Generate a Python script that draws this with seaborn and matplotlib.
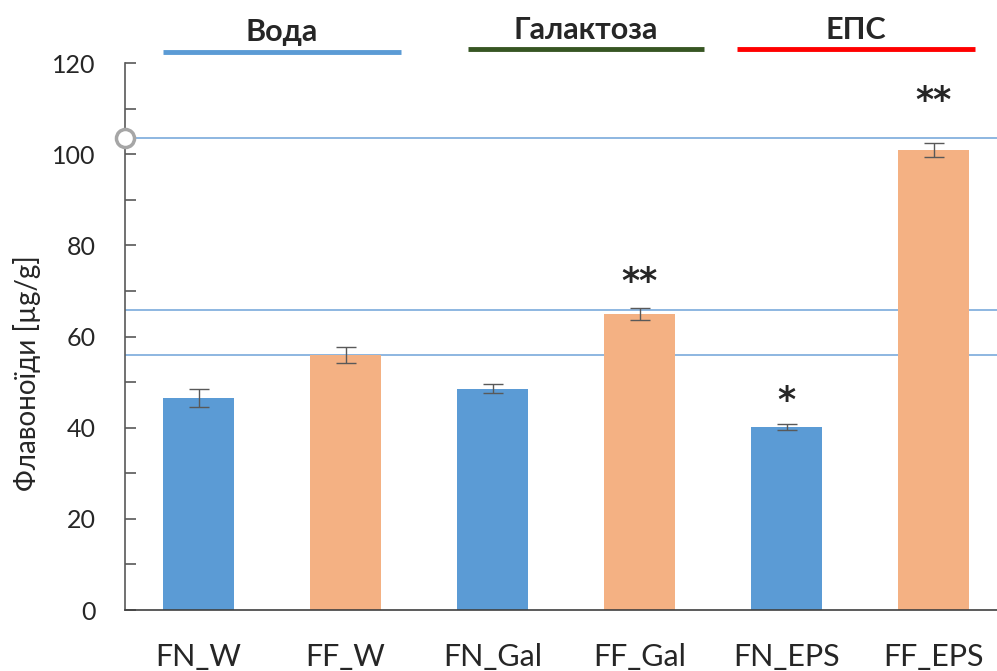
import matplotlib
matplotlib.use("Agg")
import matplotlib.pyplot as plt
import seaborn as sns
import pandas as pd

# Flavonoid content per treatment
categories = ["FN_W", "FF_W", "FN_Gal", "FF_Gal", "FN_EPS", "FF_EPS"]
values = [46.5, 55.9, 48.5, 64.9, 40.1, 100.9]
errors = [2.0, 1.8, 1.0, 1.3, 0.7, 1.5]
significance = ["", "", "", "**", "*", "**"]
star_y = [None, None, None, 72.0, 45.8, 111.6]

# Reference levels drawn across the plot
ref_levels = [103.5, 65.8, 55.9]

# Treatment groups: label, x-span of the bracket line, line colour
groups = ["Вода", "Галактоза", "ЕПС"]
group_spans = [(-0.245, 1.38), (1.83, 3.44), (3.66, 5.28)]
group_colors = ["#5B9BD5", "#375623", "#FF0000"]

y_ticks = [0, 20, 40, 60, 80, 100, 120]

sns.set_theme(style="white")
plt.rcParams["font.family"] = ["Lato", "DejaVu Sans"]

blue = "#5B9BD5"
orange = "#F4B183"
palette = {c: (blue if c.startswith("FN") else orange) for c in categories}

df = pd.DataFrame({"cat": categories, "val": values})

fig = plt.figure(figsize=(9.97, 6.71), dpi=100)
ax = fig.add_axes([0.1254, 0.0909, 0.8746, 0.8152])

sns.barplot(data=df, x="cat", y="val", hue="cat", palette=palette,
            legend=False, width=0.48, ax=ax, errorbar=None, saturation=1,
            edgecolor="none", zorder=2)

ax.errorbar(range(len(categories)), values, yerr=errors, fmt="none",
            ecolor="#595959", elinewidth=1.0, capsize=7, capthick=1.0, zorder=3)

for lvl in ref_levels:
    ax.axhline(lvl, color="#6FA3D8", lw=1.1, zorder=1)
ax.plot([-0.5], [ref_levels[0]], marker="o", ms=13, mfc="white",
        mec="#A6A6A6", mew=2.5, clip_on=False, zorder=5)

for i, s in enumerate(significance):
    if s:
        ax.text(i, star_y[i], s, ha="center", va="center",
                fontsize=25, fontweight="bold", family="DejaVu Sans")

ax.set_xlim(-0.5, 5.43)
ax.set_ylim(0, 120)
ax.set_yticks(y_ticks)
ax.set_yticks(range(10, 120, 20), minor=True)
ax.tick_params(axis="y", which="both", direction="in", length=8, width=1.2,
               color="#595959", labelsize=18, pad=21, left=True)
ax.tick_params(axis="x", length=0, labelsize=22, pad=24)
ax.set_xlabel("")
ax.set_ylabel("Флавоноїди [µg/g]", fontsize=20)
ax.yaxis.set_label_coords(-0.096, 0.433)

for side in ["top", "right"]:
    ax.spines[side].set_visible(False)
ax.spines["left"].set_color("#595959")
ax.spines["left"].set_linewidth(1.2)
ax.spines["bottom"].set_color("#404040")
ax.spines["bottom"].set_linewidth(1.2)

label_y = [126.8, 127.3, 127.3]
line_y = [122.4, 123.0, 123.0]
for name, (x0, x1), col, ty, ly in zip(groups, group_spans, group_colors, label_y, line_y):
    ax.plot([x0, x1], [ly, ly], color=col, lw=3.5, clip_on=False, solid_capstyle="butt")
    ax.text((x0 + x1) / 2, ty, name, ha="center", va="center", fontsize=22,
            fontweight="bold", clip_on=False)

fig.savefig("out.png", dpi=100)
